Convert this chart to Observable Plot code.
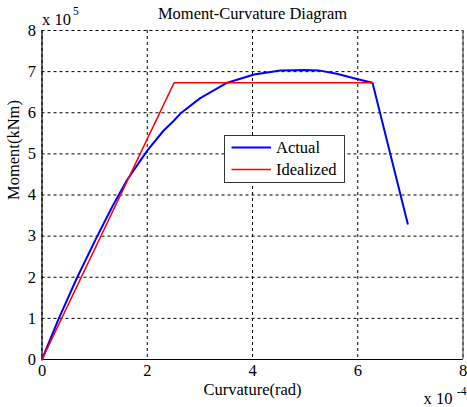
<!DOCTYPE html>
<html><head><meta charset="utf-8">
<script src="https://cdn.jsdelivr.net/npm/d3@7"></script>
<script src="https://cdn.jsdelivr.net/npm/@observablehq/plot@0.6"></script>
<style>html,body{margin:0;padding:0;background:#fff}svg{display:block}</style>
</head><body><div id="chart"></div>
<script>
// Curvature in units of 1e-4 rad, moment in units of 1e5 kNm
const actualCurvature = [0, 0.32, 0.67, 1.05, 1.35, 1.62, 2.0, 2.3, 2.5, 2.63, 3.0, 3.52, 4.03, 4.53, 5.0, 5.26, 5.6, 6.02, 6.28, 6.95];
const actualMoment    = [0, 1.0, 2.0, 3.0, 3.75, 4.37, 5.08, 5.55, 5.8, 5.98, 6.35, 6.73, 6.93, 7.03, 7.04, 7.03, 6.95, 6.81, 6.73, 3.30];
const idealCurvature = [0, 2.51, 6.28];
const idealMoment    = [0, 6.73, 6.73];
const xTicks = [0, 2, 4, 6, 8];
const yTicks = [0, 1, 2, 3, 4, 5, 6, 7, 8];
const seriesNames = ["Actual", "Idealized"];
const seriesColors = ["#0000ff", "#ff0000"];
const titleText = "Moment-Curvature Diagram";
const xLabel = "Curvature(rad)";
const yLabel = "Moment(kNm)";
const xExp = "-4";
const yExp = "5";

const actual = actualCurvature.map((c, i) => ({c, m: actualMoment[i]}));
const ideal = idealCurvature.map((c, i) => ({c, m: idealMoment[i]}));

const font = "Liberation Serif, Times New Roman, serif";
const fs = 16.5;
const plot = Plot.plot({
  width: 467, height: 407,
  marginLeft: 41.5, marginRight: 4.5, marginTop: 30, marginBottom: 48,
  style: {fontFamily: font, fontSize: fs + "px", color: "#000", background: "#fff"},
  x: {domain: [0, 8], ticks: xTicks, tickSize: 0, tickPadding: 5, label: null},
  y: {domain: [0, 8], ticks: yTicks, tickSize: 0, tickPadding: 6, label: null},
  marks: [
    Plot.ruleX(xTicks, {stroke: "#000", strokeDasharray: "3,3", strokeWidth: 1}),
    Plot.ruleY(yTicks, {stroke: "#000", strokeDasharray: "3,3", strokeWidth: 1}),
    Plot.ruleX([0], {stroke: "#000", strokeWidth: 1.2}),
    Plot.ruleX([8], {stroke: "#555", strokeWidth: 1.2}),
    Plot.ruleY([0], {stroke: "#000", strokeWidth: 1.2}),
    Plot.line(actual, {x: "c", y: "m", stroke: seriesColors[0], strokeWidth: 2}),
    Plot.line(ideal, {x: "c", y: "m", stroke: seriesColors[1], strokeWidth: 1.6}),
    Plot.text([titleText], {frameAnchor: "top", dy: -12, lineAnchor: "bottom", fontSize: fs}),
    Plot.text([xLabel], {frameAnchor: "bottom", dy: 35, lineAnchor: "bottom", fontSize: fs}),
    Plot.text([yLabel], {frameAnchor: "left", dx: -28.5, dy: 5, rotate: -90, fontSize: fs}),
    Plot.text(["x 10"], {frameAnchor: "top-left", dy: -6, lineAnchor: "bottom", textAnchor: "start", fontSize: fs}),
    Plot.text([yExp], {frameAnchor: "top-left", dx: 31, dy: -16, lineAnchor: "bottom", textAnchor: "start", fontSize: 11.5}),
    Plot.text(["x 10"], {frameAnchor: "bottom-right", dx: -39.5, dy: 44, lineAnchor: "bottom", textAnchor: "start", fontSize: fs}),
    Plot.text([xExp], {frameAnchor: "bottom-right", dx: -6, dy: 35, lineAnchor: "bottom", textAnchor: "start", fontSize: 11.5})
  ]
});

// Legend box
const svg = d3.select(plot);
const lg = svg.append("g").attr("font-family", font).attr("font-size", fs).attr("text-anchor", "start");
lg.append("rect").attr("x", 224.5).attr("y", 135.5).attr("width", 120).attr("height", 47)
  .attr("fill", "#fff").attr("stroke", "#333").attr("stroke-width", 1);
const rowY = [147.5, 169.5];
seriesNames.forEach((name, i) => {
  lg.append("line").attr("x1", 231.5).attr("x2", 271).attr("y1", rowY[i]).attr("y2", rowY[i])
    .attr("stroke", seriesColors[i]).attr("stroke-width", i === 0 ? 2 : 1.6);
  lg.append("text").attr("x", 276).attr("y", rowY[i]).attr("dy", "0.35em")
    .attr("text-anchor", "start").attr("fill", "#000").text(name);
});

document.getElementById("chart").appendChild(plot);
</script>
</body></html>
